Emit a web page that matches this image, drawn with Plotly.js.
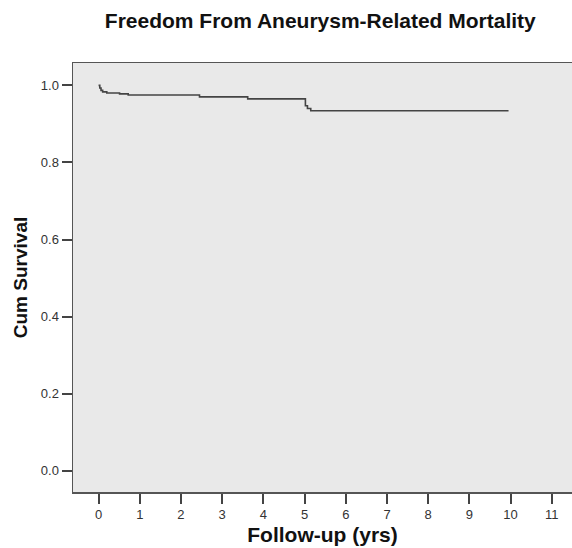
<!DOCTYPE html>
<html>
<head>
<meta charset="utf-8">
<script src="https://cdn.plot.ly/plotly-3.0.1.min.js"></script>
<style>html,body{margin:0;padding:0;background:#fff;}#chart{width:572px;height:548px;}</style>
</head>
<body>
<div id="chart"></div>
<script>
// Kaplan-Meier step data
var timeYrs = [0, 0.03, 0.06, 0.10, 0.20, 0.51, 0.72, 2.45, 3.62, 5.02, 5.07, 5.15, 9.95];
var cumSurvival = [1.0, 0.993, 0.987, 0.983, 0.980, 0.978, 0.975, 0.970, 0.965, 0.947, 0.940, 0.934, 0.934];
var xTicks = [0, 1, 2, 3, 4, 5, 6, 7, 8, 9, 10, 11];
var yTicks = [0.0, 0.2, 0.4, 0.6, 0.8, 1.0];
var yTickText = ["0.0", "0.2", "0.4", "0.6", "0.8", "1.0"];

var trace = {
  x: timeYrs,
  y: cumSurvival,
  type: 'scatter',
  mode: 'lines',
  line: {shape: 'hv', color: '#444444', width: 1.6},
  hoverinfo: 'skip'
};

var fontFam = '"Liberation Sans", Arial, Helvetica, sans-serif';

var layout = {
  width: 572,
  height: 548,
  margin: {l: 73, r: 0, t: 63, b: 56, pad: 0},
  paper_bgcolor: '#ffffff',
  plot_bgcolor: '#e9e9e9',
  showlegend: false,
  title: {
    text: '<b>Freedom From Aneurysm-Related Mortality</b>',
    font: {family: fontFam, size: 21, color: '#111111'},
    x: 0.56, xanchor: 'center',
    y: 0.963, yanchor: 'middle'
  },
  xaxis: {
    range: [-0.62, 11.49],
    tickvals: xTicks,
    ticktext: xTicks.map(String),
    ticks: 'outside',
    ticklen: 10,
    tickwidth: 2,
    tickcolor: '#444444',
    showgrid: false,
    zeroline: false,
    showline: true,
    linecolor: '#555555',
    linewidth: 1.5,
    mirror: true,
    tickfont: {family: fontFam, size: 13, color: '#333333'},
    title: {text: '<b>Follow-up (yrs)</b>', font: {family: fontFam, size: 21, color: '#111111'}, standoff: 6},
    automargin: false,
    fixedrange: true
  },
  yaxis: {
    range: [-0.055, 1.058],
    tickvals: yTicks,
    ticktext: yTickText,
    ticks: 'outside',
    ticklen: 10,
    tickwidth: 2,
    tickcolor: '#444444',
    showgrid: false,
    zeroline: false,
    showline: true,
    linecolor: '#555555',
    linewidth: 1.5,
    mirror: false,
    tickfont: {family: fontFam, size: 13, color: '#333333'},
    title: {text: '<b>Cum Survival</b>', font: {family: fontFam, size: 19, color: '#111111'}, standoff: 8},
    automargin: false,
    fixedrange: true
  }
};

Plotly.newPlot('chart', [trace], layout, {displayModeBar: false, staticPlot: true});
</script>
</body>
</html>
